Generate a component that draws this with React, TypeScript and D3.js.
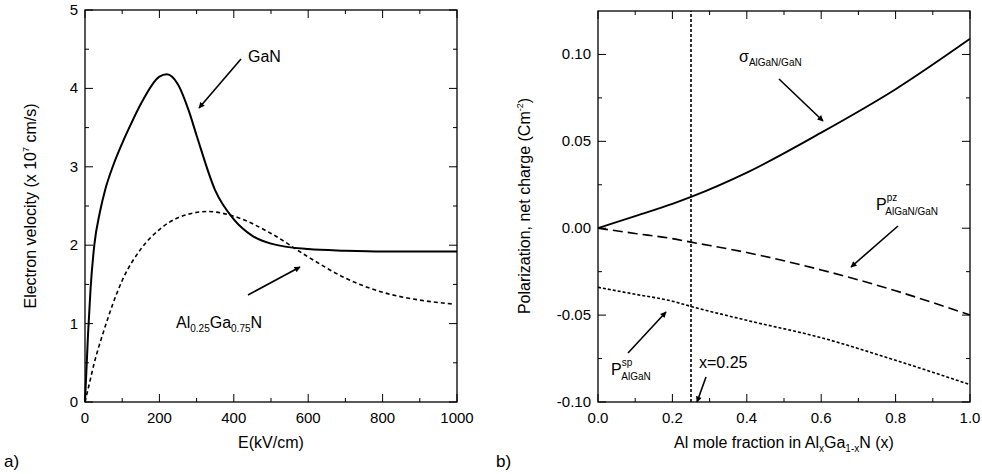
import * as d3 from "d3";

const ganE = [0, 8, 15, 25, 40, 55, 76, 100, 125, 150, 200, 220, 250, 280, 300, 350, 400, 450, 500, 600, 700, 800, 1000];
const ganV = [0, 0.85, 1.45, 2.0, 2.42, 2.72, 3.02, 3.3, 3.56, 3.8, 4.15, 4.18, 4.05, 3.7, 3.4, 2.7, 2.33, 2.12, 2.02, 1.95, 1.93, 1.92, 1.92];
const alE = [0, 10, 25, 50, 100, 150, 200, 250, 330, 400, 500, 600, 700, 800, 900, 990];
const alV = [0, 0.2, 0.5, 0.9, 1.55, 1.95, 2.2, 2.35, 2.43, 2.37, 2.15, 1.85, 1.58, 1.4, 1.3, 1.25];

const xFrac = [0, 0.1, 0.2, 0.25, 0.4, 0.6, 0.8, 1.0];
const sigma = [0, 0.007, 0.014, 0.018, 0.032, 0.055, 0.08, 0.109];
const ppz = [0, -0.003, -0.006, -0.008, -0.014, -0.024, -0.036, -0.05];
const psp = [-0.034, -0.038, -0.042, -0.045, -0.053, -0.063, -0.076, -0.09];

const font = "Liberation Sans, Arial, sans-serif";

function Frame({ x, y, xt, yt, xmin, ymin, xfmt, yfmt }: any) {
  const [x0, x1] = x.range();
  const [y0, y1] = y.range();
  const tk = 8, mt = 4;
  return (
    <g>
      <rect x={x0} y={y1} width={x1 - x0} height={y0 - y1} fill="none" stroke="#000" strokeWidth={1.3} />
      {xmin.map((v: number, i: number) => {
        const major = xt.some((t: number) => Math.abs(t - v) < 1e-9);
        const l = major ? tk : mt;
        return (
          <g key={"x" + i}>
            <line x1={x(v)} x2={x(v)} y1={y0} y2={y0 - l} stroke="#000" />
            <line x1={x(v)} x2={x(v)} y1={y1} y2={y1 + l} stroke="#000" />
          </g>
        );
      })}
      {ymin.map((v: number, i: number) => {
        const major = yt.some((t: number) => Math.abs(t - v) < 1e-9);
        const l = major ? tk : mt;
        return (
          <g key={"y" + i}>
            <line y1={y(v)} y2={y(v)} x1={x0} x2={x0 + l} stroke="#000" />
            <line y1={y(v)} y2={y(v)} x1={x1} x2={x1 - l} stroke="#000" />
          </g>
        );
      })}
      {xt.map((v: number, i: number) => (
        <text key={"xl" + i} x={x(v)} y={y0 + 21} fontSize={15} textAnchor="middle">{xfmt(v)}</text>
      ))}
      {yt.map((v: number, i: number) => (
        <text key={"yl" + i} x={x0 - 7} y={y(v) + 5} fontSize={15} textAnchor="end">{yfmt(v)}</text>
      ))}
    </g>
  );
}

function Arrow({ x1, y1, x2, y2 }: any) {
  return <line x1={x1} y1={y1} x2={x2} y2={y2} stroke="#000" strokeWidth={1.6} markerEnd="url(#ah)" />;
}

export default function App() {
  const xa = d3.scaleLinear().domain([0, 1000]).range([85, 457]);
  const ya = d3.scaleLinear().domain([0, 5]).range([402, 10]);
  const xb = d3.scaleLinear().domain([0, 1]).range([598, 970]);
  const yb = d3.scaleLinear().domain([-0.1, 0.125]).range([402, 11]);

  const la = d3.line<number>().curve(d3.curveMonotoneX);
  const ganPath = la.x((d) => xa(d)).y((_, i) => ya(ganV[i]))(ganE);
  const alPath = la.x((d) => xa(d)).y((_, i) => ya(alV[i]))(alE);
  const lb = (vals: number[]) => d3.line<number>().curve(d3.curveMonotoneX).x((d) => xb(d)).y((_, i) => yb(vals[i]))(xFrac);

  return (
    <svg width={982} height={474} style={{ position: "absolute", left: 0, top: 0, fontFamily: font }}>
      <defs>
        <marker id="ah" viewBox="0 0 10 10" refX={9} refY={5} markerWidth={7} markerHeight={6} orient="auto" markerUnits="userSpaceOnUse">
          <path d="M0,0 L10,5 L0,10 z" fill="#000" />
        </marker>
      </defs>
      <rect width={982} height={474} fill="#fff" />
      <g fontFamily={font}>
        <Frame x={xa} y={ya} xt={d3.range(0, 1001, 200)} yt={d3.range(0, 6, 1)}
          xmin={d3.range(0, 1001, 100)} ymin={d3.range(0, 5.01, 0.5)}
          xfmt={(v: number) => String(v)} yfmt={(v: number) => String(v)} />
        <path d={ganPath!} fill="none" stroke="#000" strokeWidth={2} />
        <path d={alPath!} fill="none" stroke="#000" strokeWidth={1.6} strokeDasharray="4,3" />
        <text x={248} y={62} fontSize={16}>GaN</text>
        <Arrow x1={241} y1={59} x2={199} y2={108} />
        <Arrow x1={248} y1={295} x2={300} y2={267} />
        <text x={176} y={328} fontSize={16}>Al<tspan fontSize={10} dy={4}>0.25</tspan><tspan dy={-4}>Ga</tspan><tspan fontSize={10} dy={4}>0.75</tspan><tspan dy={-4}>N</tspan></text>
        <text x={271} y={448} fontSize={16} textAnchor="middle">E(kV/cm)</text>
        <text transform="translate(36,206) rotate(-90)" fontSize={16} textAnchor="middle">Electron velocity (x 10<tspan fontSize={9} dy={-7}>7</tspan><tspan dy={7}> cm/s)</tspan></text>
        <text x={4} y={467} fontSize={17}>a)</text>

        <Frame x={xb} y={yb} xt={d3.range(0, 1.01, 0.2)} yt={[-0.1, -0.05, 0, 0.05, 0.1]}
          xmin={d3.range(0, 1.01, 0.1)} ymin={d3.range(-0.1, 0.1201, 0.025)}
          xfmt={(v: number) => v.toFixed(1)} yfmt={(v: number) => v.toFixed(2)} />
        <line x1={xb(0.25)} x2={xb(0.25)} y1={yb(-0.1)} y2={yb(0.125)} stroke="#000" strokeWidth={1.6} strokeDasharray="3,2" />
        <path d={lb(sigma)!} fill="none" stroke="#000" strokeWidth={1.8} />
        <path d={lb(ppz)!} fill="none" stroke="#000" strokeWidth={1.6} strokeDasharray="10,5" />
        <path d={lb(psp)!} fill="none" stroke="#000" strokeWidth={1.6} strokeDasharray="3,2" />
        <text x={739} y={62} fontSize={16}>σ<tspan fontSize={10} dy={4}>AlGaN/GaN</tspan></text>
        <Arrow x1={779} y1={79} x2={823} y2={121} />
        <text x={876} y={210} fontSize={16}>P<tspan fontSize={10} dy={-9}>pz</tspan><tspan fontSize={10} dx={-12} dy={14}>AlGaN/GaN</tspan></text>
        <Arrow x1={898} y1={226} x2={851} y2={267} />
        <text x={611} y={375} fontSize={16}>P<tspan fontSize={10} dy={-9}>sp</tspan><tspan fontSize={10} dx={-11} dy={14}>AlGaN</tspan></text>
        <Arrow x1={628} y1={353} x2={666} y2={312} />
        <text x={699} y={368} fontSize={16}>x=0.25</text>
        <Arrow x1={706} y1={377} x2={697} y2={402} />
        <text x={784} y={448} fontSize={16} textAnchor="middle">Al mole fraction in Al<tspan fontSize={10} dy={4}>x</tspan><tspan dy={-4}>Ga</tspan><tspan fontSize={10} dy={4}>1-x</tspan><tspan dy={-4}>N (x)</tspan></text>
        <text transform="translate(530,206) rotate(-90)" fontSize={16} textAnchor="middle">Polarization, net charge (Cm<tspan fontSize={9} dy={-7}>-2</tspan><tspan dy={7}>)</tspan></text>
        <text x={496} y={467} fontSize={17}>b)</text>
      </g>
    </svg>
  );
}
